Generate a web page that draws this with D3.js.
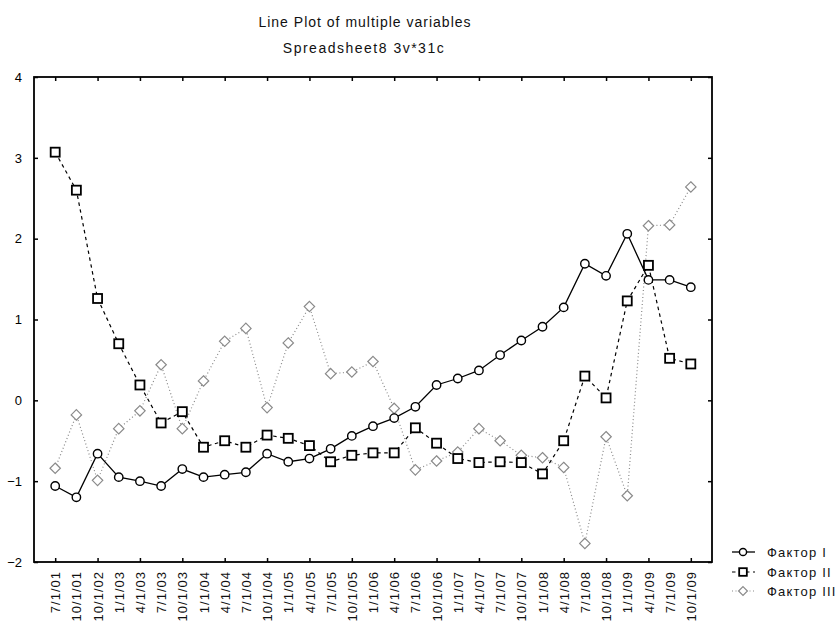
<!DOCTYPE html>
<html>
<head>
<meta charset="utf-8">
<script src="https://cdn.jsdelivr.net/npm/d3@7"></script>
<style>
  body { margin: 0; background: #fff; }
  svg { display: block; font-family: "Liberation Sans", Arial, sans-serif; }
</style>
</head>
<body>
<svg id="chart" width="840" height="628"></svg>
<script>
const categories = ["7/1/01","10/1/01","10/1/02","1/1/03","4/1/03","7/1/03","10/1/03","1/1/04","4/1/04","7/1/04","10/1/04","1/1/05","4/1/05","7/1/05","10/1/05","1/1/06","4/1/06","7/1/06","10/1/06","1/1/07","4/1/07","7/1/07","10/1/07","1/1/08","4/1/08","7/1/08","10/1/08","1/1/09","4/1/09","7/1/09","10/1/09"];
const factor1 = [-1.06,-1.20,-0.66,-0.95,-1.00,-1.06,-0.85,-0.95,-0.92,-0.89,-0.66,-0.76,-0.72,-0.60,-0.44,-0.32,-0.22,-0.08,0.19,0.27,0.37,0.56,0.74,0.91,1.15,1.69,1.54,2.06,1.49,1.49,1.40];
const factor2 = [3.07,2.60,1.26,0.70,0.19,-0.28,-0.14,-0.58,-0.50,-0.58,-0.43,-0.47,-0.56,-0.76,-0.68,-0.65,-0.65,-0.34,-0.53,-0.72,-0.77,-0.76,-0.77,-0.91,-0.50,0.30,0.03,1.23,1.67,0.52,0.45];
const factor3 = [-0.84,-0.18,-0.99,-0.35,-0.13,0.44,-0.35,0.24,0.73,0.89,-0.09,0.71,1.16,0.33,0.35,0.48,-0.10,-0.86,-0.75,-0.64,-0.35,-0.50,-0.68,-0.71,-0.83,-1.77,-0.45,-1.18,2.16,2.17,2.64];
const seriesNames = ["Фактор I","Фактор II","Фактор III"];
const yTicks = [-2,-1,0,1,2,3,4];
const titleText = "Line Plot of multiple variables";
const subtitleText = "Spreadsheet8 3v*31c";

const svg = d3.select("#chart");
const L = 34, R = 712, T = 77, B = 562;

const x = d3.scalePoint().domain(categories).range([L, R]).padding(1);
const y = d3.scaleLinear().domain([-2, 4]).range([B, T]);

// Titles
svg.append("text").attr("x", 365).attr("y", 27).attr("text-anchor", "middle")
  .attr("font-size", 14).attr("letter-spacing", 1).attr("fill", "#111").text(titleText);
svg.append("text").attr("x", 364).attr("y", 53).attr("text-anchor", "middle")
  .attr("font-size", 14).attr("letter-spacing", 1.5).attr("fill", "#111").text(subtitleText);

// Axes
const evenCats = categories.filter((d, i) => i % 2 === 0);
const axisStyle = g => {
  g.select(".domain").remove();
  g.selectAll(".tick line").attr("stroke", "#000").attr("stroke-width", 1.5);
};
svg.append("g").attr("transform", `translate(0,${B})`)
  .call(d3.axisBottom(x).tickValues(evenCats).tickSize(-4).tickFormat(""))
  .call(axisStyle);
svg.append("g").attr("transform", `translate(0,${T})`)
  .call(d3.axisTop(x).tickValues(evenCats).tickSize(-4).tickFormat(""))
  .call(axisStyle);
svg.append("g").attr("transform", `translate(${R},0)`)
  .call(d3.axisRight(y).tickValues(yTicks).tickSize(-4).tickFormat(""))
  .call(axisStyle);
const yAxis = svg.append("g").attr("transform", `translate(${L},0)`)
  .call(d3.axisLeft(y).tickValues(yTicks).tickSize(-4).tickPadding(12).tickFormat(d3.format("d")))
  .call(axisStyle);
yAxis.selectAll("text").attr("font-size", 13).attr("fill", "#000")
  .attr("font-family", "Liberation Sans, Arial, sans-serif");

// X labels
const xLab = svg.append("g").attr("transform", `translate(0,${B})`)
  .call(d3.axisBottom(x).tickSize(0).tickFormat(d => d));
xLab.select(".domain").remove();
xLab.selectAll("text")
  .attr("font-size", 13).attr("letter-spacing", 1).attr("fill", "#111")
  .attr("font-family", "Liberation Sans, Arial, sans-serif")
  .attr("text-anchor", "end")
  .attr("transform", "translate(0,9) rotate(-90)")
  .attr("x", 0).attr("y", 0).attr("dy", "0.35em");

// Frame
svg.append("rect").attr("x", L).attr("y", T).attr("width", R - L).attr("height", B - T)
  .attr("fill", "none").attr("stroke", "#000").attr("stroke-width", 1.8);

const line = d3.line().x((d, i) => x(categories[i])).y(d => y(d));

const styles = [
  {data: factor1, color: "#000", dash: null, width: 1.3, marker: "circle", mcolor: "#000"},
  {data: factor2, color: "#000", dash: "3.5,3.5", width: 1.2, marker: "square", mcolor: "#000"},
  {data: factor3, color: "#8a8a8a", dash: "1,2.5", width: 1.2, marker: "diamond", mcolor: "#8a8a8a"}
];

function drawMarker(g, type, cx, cy, color, sc) {
  sc = sc || 1;
  if (type === "circle") {
    g.append("circle").attr("cx", cx).attr("cy", cy).attr("r", 4.2 * sc)
      .attr("fill", "#fff").attr("stroke", color).attr("stroke-width", 1.4);
  } else if (type === "square") {
    const h = 4.5 * sc;
    g.append("rect").attr("x", cx - h).attr("y", cy - h).attr("width", 2 * h).attr("height", 2 * h)
      .attr("fill", "#fff").attr("stroke", color).attr("stroke-width", 1.8);
  } else {
    const s = 5.2 * sc;
    g.append("path").attr("d", `M${cx},${cy - s}L${cx + s},${cy}L${cx},${cy + s}L${cx - s},${cy}Z`)
      .attr("fill", "#fff").attr("stroke", color).attr("stroke-width", 1.2);
  }
}

// draw order: III, II, I
[2, 1, 0].forEach(k => {
  const s = styles[k];
  const g = svg.append("g");
  g.append("path").datum(s.data).attr("d", line).attr("fill", "none")
    .attr("stroke", s.color).attr("stroke-width", s.width)
    .attr("stroke-dasharray", s.dash);
  s.data.forEach((v, i) => drawMarker(g, s.marker, x(categories[i]), y(v), s.mcolor));
});

// Legend
const legY = [552, 572, 591];
styles.forEach((s, k) => {
  const g = svg.append("g");
  g.append("line").attr("x1", 732).attr("x2", 755).attr("y1", legY[k]).attr("y2", legY[k])
    .attr("stroke", s.color).attr("stroke-width", s.width).attr("stroke-dasharray", s.dash);
  drawMarker(g, s.marker, 743, legY[k], s.mcolor, 0.85);
  g.append("text").attr("x", 767).attr("y", legY[k]).attr("dy", "0.35em")
    .attr("font-size", 13).attr("letter-spacing", 1.2).attr("fill", "#111")
    .text(seriesNames[k]);
});
</script>
</body>
</html>
